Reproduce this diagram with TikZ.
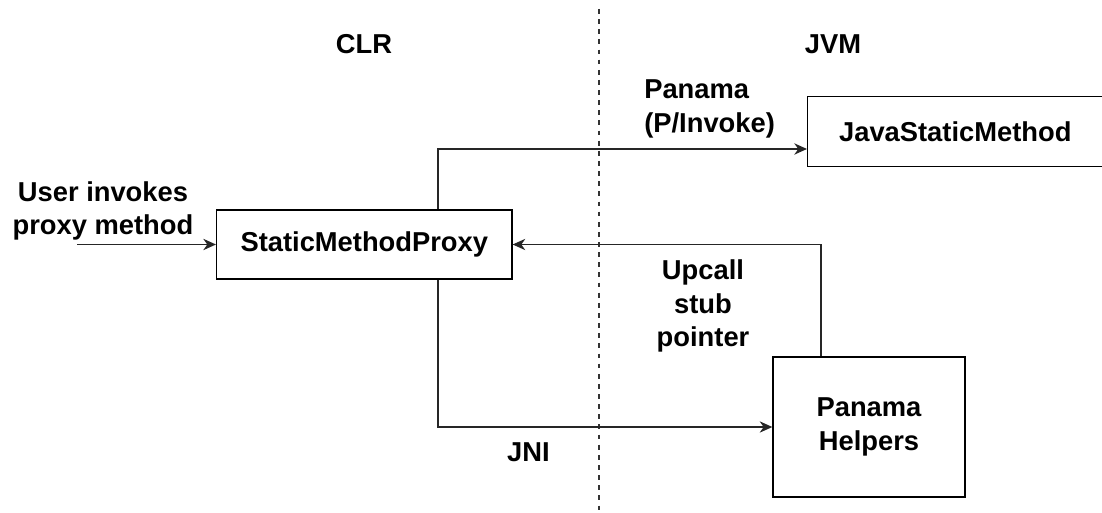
\documentclass[tikz,border=0pt]{standalone}
\usepackage{fontspec}
\setmainfont{Liberation Sans}
\usetikzlibrary{arrows.meta}

\tikzset{
  box/.style={draw=black, line width=1pt, fill=white, inner sep=0pt,
              font=\bfseries\fontsize{20.5}{25}\selectfont, align=center},
  lbl/.style={inner sep=0pt, font=\bfseries\fontsize{20.5}{25}\selectfont},
  conn/.style={draw=black!85, line width=1pt,
               -{Stealth[length=9.5pt,width=8.5pt,inset=3pt]}},
  divider/.style={draw=black!80, line width=0.9pt, dash pattern=on 3.6pt off 4pt}
}

\begin{document}
\begin{tikzpicture}[x=0.75pt, y=-0.75pt]
  \useasboundingbox (0,0) rectangle (1102,513);
  \clip (0,0) rectangle (1102,513);

  % boundary between the two runtimes
  \coordinate (divtop) at (599,9);
  \coordinate (divbot) at (599,515);
  \draw[divider] (divtop) -- (divbot);

  % runtime headings
  \node[lbl, anchor=base] (clr) at (364,53.5) {CLR};
  \node[lbl, anchor=base] (jvm) at (833,53.5) {JVM};

  % components
  \node[box, minimum width=221.5pt, minimum height=51.75pt] (proxy) at (364.3,244.5) {StaticMethodProxy};
  \node[box, minimum width=221.5pt, minimum height=52.5pt] (jsm) at (955.3,131.7) {JavaStaticMethod};
  \node[box, minimum width=144pt, minimum height=105pt] (helpers) at (869,427) {Panama\\Helpers};

  % routing helpers
  \coordinate (userin) at (77,244.5);
  \coordinate (tx) at (438,149);
  \coordinate (ux) at (821,244.5);

  % connectors
  \draw[conn] (userin) -- (proxy.west);
  \draw[conn] (proxy.north -| tx) |- (jsm.west |- tx);
  \draw[conn] (helpers.north -| ux) |- (proxy.east);
  \draw[conn] (proxy.south -| tx) |- (helpers.west);

  % connector labels
  \node[lbl, align=center] (userlbl) at (103,211) {User invokes\\proxy method};
  \node[lbl, align=left, anchor=west] (panama) at (644,109) {Panama\\(P/Invoke)};
  \node[lbl, align=center] (upcall) at (703,306) {Upcall\\stub\\pointer};
  \node[lbl] (jni) at (528.5,452) {JNI};
\end{tikzpicture}
\end{document}
